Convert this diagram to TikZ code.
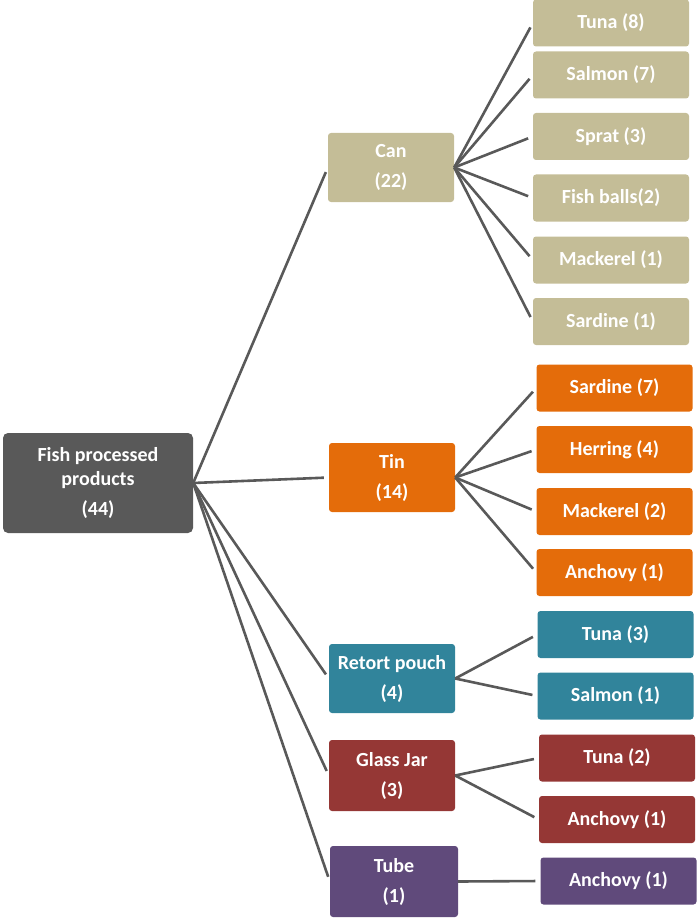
\documentclass[tikz,border=0pt]{standalone}
\usepackage{fontspec}
\setmainfont{Carlito}
\definecolor{rootgray}{HTML}{595959}
\definecolor{cantan}{HTML}{C4BD97}
\definecolor{tinorange}{HTML}{E46C0A}
\definecolor{pouchteal}{HTML}{31849B}
\definecolor{jarred}{HTML}{953735}
\definecolor{tubepurple}{HTML}{604A7B}
\begin{document}
\begin{tikzpicture}[x=1pt,y=-1pt,
    box/.style={rounded corners=3pt, text=white, inner sep=0pt, align=center,
        font=\bfseries\fontsize{20}{24}\selectfont},
    rootbox/.style={box, fill=rootgray, rounded corners=5pt, minimum width=190pt, minimum height=100pt},
    midbox/.style={box, minimum width=126pt, minimum height=69pt},
    leafbox/.style={box, minimum width=156pt, minimum height=47pt},
    link/.style={draw=rootgray, line width=2.6pt, shorten >=5pt}]
                \useasboundingbox (0,0) rectangle (700,920);
                \node[rootbox] (fish) at (98,483) {Fish processed\\products\\[6pt](44)};
                \node[midbox, fill=cantan] (can) at (391,167.5) {Can\\[6pt](22)};
                \node[midbox, fill=tinorange] (tin) at (392,477.5) {Tin\\[6pt](14)};
                \node[midbox, fill=pouchteal] (pouch) at (392,678.5) {Retort pouch\\[6pt](4)};
                \node[midbox, fill=jarred, minimum height=71pt] (jar) at (392,775.5) {Glass Jar\\[6pt](3)};
                \node[midbox, fill=tubepurple, minimum width=128pt, minimum height=71pt] (tube) at (394,881.5) {Tube\\[6pt](1)};
                \node[leafbox, fill=cantan] (cantuna) at (611,23) {Tuna (8)};
                \node[leafbox, fill=cantan] (cansalmon) at (611,75) {Salmon (7)};
                \node[leafbox, fill=cantan] (cansprat) at (611,136.5) {Sprat (3)};
                \node[leafbox, fill=cantan] (canballs) at (611,198) {Fish balls(2)};
                \node[leafbox, fill=cantan] (canmackerel) at (611,260) {Mackerel (1)};
                \node[leafbox, fill=cantan] (cansardine) at (611,321.5) {Sardine (1)};
                \node[leafbox, fill=tinorange] (tinsardine) at (614.5,388) {Sardine (7)};
                \node[leafbox, fill=tinorange] (tinherring) at (614.5,449.5) {Herring (4)};
                \node[leafbox, fill=tinorange] (tinmackerel) at (614.5,511.5) {Mackerel (2)};
                \node[leafbox, fill=tinorange] (tinanchovy) at (614.5,572.5) {Anchovy (1)};
                \node[leafbox, fill=pouchteal] (pouchtuna) at (615.5,634.5) {Tuna (3)};
                \node[leafbox, fill=pouchteal] (pouchsalmon) at (615.5,696) {Salmon (1)};
                \node[leafbox, fill=jarred] (jartuna) at (617,758) {Tuna (2)};
                \node[leafbox, fill=jarred] (jaranchovy) at (617,819.5) {Anchovy (1)};
                \node[leafbox, fill=tubepurple] (tubeanchovy) at (618.5,881) {Anchovy (1)};
                \draw[link] (fish.east) -- (can.west);
                \draw[link] (fish.east) -- (tin.west);
                \draw[link] (fish.east) -- (pouch.west);
                \draw[link] (fish.east) -- (jar.west);
                \draw[link] (fish.east) -- (tube.west);
                \draw[link] (can.east) -- (cantuna.west);
                \draw[link] (can.east) -- (cansalmon.west);
                \draw[link] (can.east) -- (cansprat.west);
                \draw[link] (can.east) -- (canballs.west);
                \draw[link] (can.east) -- (canmackerel.west);
                \draw[link] (can.east) -- (cansardine.west);
                \draw[link] (tin.east) -- (tinsardine.west);
                \draw[link] (tin.east) -- (tinherring.west);
                \draw[link] (tin.east) -- (tinmackerel.west);
                \draw[link] (tin.east) -- (tinanchovy.west);
                \draw[link] (pouch.east) -- (pouchtuna.west);
                \draw[link] (pouch.east) -- (pouchsalmon.west);
                \draw[link] (jar.east) -- (jartuna.west);
                \draw[link] (jar.east) -- (jaranchovy.west);
                \draw[link] (tube.east) -- (tubeanchovy.west);
            \end{tikzpicture}
\end{document}
